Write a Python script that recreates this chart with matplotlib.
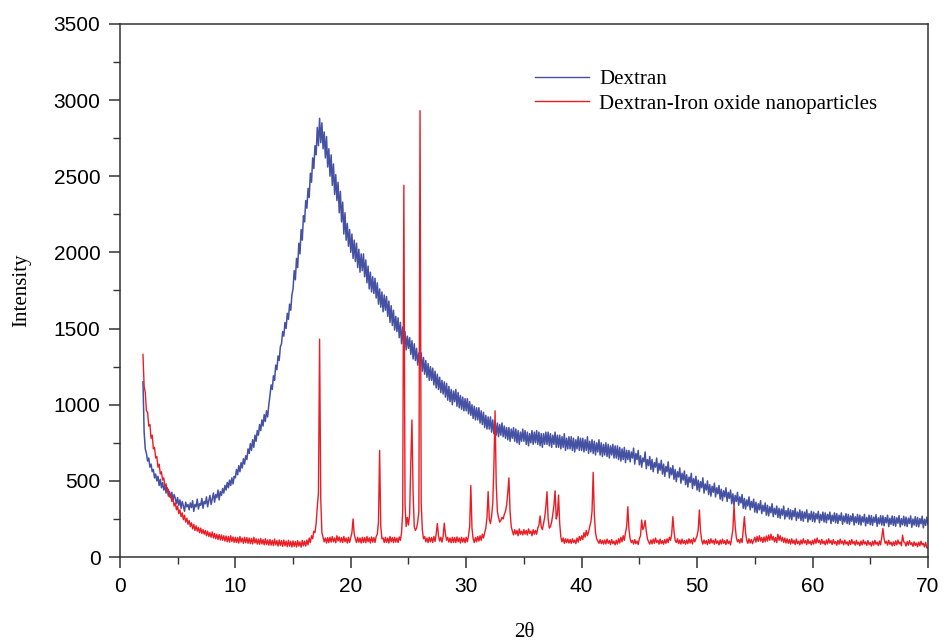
import numpy as np
import matplotlib.pyplot as plt

# 2theta grid: 2.0 .. 70.0 in steps of 0.1 deg (one row of 10 values per degree below)
two_theta = np.round(np.arange(2.0, 70.05, 0.1), 1)

# Dextran (blue)
dextran = [
    1150, 820, 710, 680, 630, 650, 590, 610, 560, 575,
    520, 545, 500, 530, 470, 510, 455, 490, 440, 470,
    420, 455, 400, 430, 390, 425, 370, 410, 385, 350,
    390, 340, 375, 320, 365, 335, 300, 360, 330, 345,
    310, 355, 325, 370, 300, 345, 330, 380, 315, 350,
    340, 385, 320, 365, 350, 395, 330, 370, 405, 345,
    380, 420, 360, 410, 390, 440, 375, 430, 405, 450,
    420, 470, 440, 490, 455, 505, 470, 520, 480, 530,
    520, 575, 540, 600, 560, 620, 585, 645, 610, 665,
    640, 710, 680, 745, 700, 770, 720, 800, 760, 830,
    800, 870, 830, 900, 860, 935, 890, 960, 920, 1000,
    1060, 1130, 1100, 1190, 1160, 1260, 1230, 1320, 1290, 1380,
    1400, 1480, 1450, 1540, 1500, 1600, 1560, 1660, 1620, 1720,
    1760, 1880, 1820, 1960, 1900, 2060, 1990, 2150, 2080, 2240,
    2200, 2340, 2290, 2420, 2360, 2520, 2460, 2620, 2550, 2700,
    2640, 2820, 2700, 2880, 2720, 2850, 2680, 2790, 2620, 2760,
    2560, 2680, 2500, 2640, 2440, 2580, 2380, 2510, 2340, 2460,
    2260, 2400, 2200, 2330, 2120, 2260, 2080, 2190, 2040, 2150,
    2000, 2120, 1960, 2080, 1940, 2060, 1900, 2020, 1870, 1990,
    1880, 1990, 1840, 1950, 1800, 1910, 1760, 1870, 1740, 1840,
    1730, 1830, 1700, 1800, 1660, 1760, 1640, 1740, 1610, 1720,
    1620, 1710, 1580, 1680, 1540, 1650, 1520, 1620, 1490, 1580,
    1480, 1570, 1440, 1540, 1400, 1510, 1380, 1480, 1360, 1450,
    1370, 1440, 1330, 1420, 1300, 1400, 1290, 1370, 1260, 1340,
    1250, 1340, 1220, 1310, 1200, 1290, 1180, 1270, 1160, 1250,
    1160, 1240, 1130, 1220, 1110, 1200, 1100, 1180, 1080, 1160,
    1070, 1150, 1050, 1140, 1030, 1120, 1020, 1100, 1000, 1090,
    1020, 1100, 990, 1080, 980, 1060, 970, 1050, 960, 1040,
    960, 1040, 940, 1020, 930, 1000, 910, 990, 900, 980,
    900, 980, 880, 960, 870, 950, 850, 930, 840, 920,
    840, 920, 820, 900, 810, 890, 800, 880, 790, 870,
    800, 880, 790, 860, 780, 850, 770, 850, 760, 840,
    780, 850, 760, 840, 750, 830, 740, 820, 760, 840,
    760, 830, 740, 820, 730, 810, 750, 830, 740, 820,
    750, 830, 740, 820, 730, 810, 720, 810, 740, 820,
    740, 820, 730, 810, 720, 800, 740, 820, 720, 800,
    720, 800, 710, 790, 720, 810, 700, 780, 710, 790,
    710, 790, 700, 780, 690, 770, 710, 790, 700, 780,
    700, 780, 690, 770, 700, 790, 680, 760, 690, 770,
    680, 760, 670, 750, 690, 770, 670, 750, 660, 740,
    670, 750, 660, 740, 650, 730, 670, 740, 650, 730,
    650, 730, 640, 720, 630, 710, 640, 720, 620, 700,
    640, 700, 625, 690, 650, 715, 610, 680, 640, 700,
    605, 665, 590, 650, 625, 690, 580, 640, 600, 660,
    575, 640, 560, 620, 590, 650, 550, 615, 570, 635,
    545, 610, 530, 595, 560, 625, 520, 585, 540, 600,
    510, 575, 495, 560, 525, 585, 485, 550, 505, 565,
    475, 540, 460, 525, 490, 550, 450, 515, 470, 530,
    440, 505, 430, 495, 455, 520, 420, 480, 440, 500,
    410, 475, 400, 465, 425, 485, 395, 455, 415, 470,
    380, 445, 370, 435, 395, 455, 365, 425, 385, 440,
    350, 415, 340, 405, 365, 425, 340, 395, 355, 410,
    320, 385, 315, 375, 335, 395, 310, 365, 325, 380,
    295, 360, 290, 350, 310, 370, 285, 340, 300, 355,
    275, 340, 270, 330, 290, 350, 265, 320, 280, 335,
    260, 320, 255, 315, 275, 335, 250, 305, 265, 320,
    250, 310, 245, 305, 265, 320, 240, 295, 255, 310,
    240, 300, 235, 295, 255, 310, 230, 285, 245, 300,
    235, 295, 230, 285, 250, 300, 225, 280, 240, 295,
    230, 290, 225, 280, 245, 295, 220, 275, 235, 290,
    225, 285, 220, 275, 240, 290, 215, 270, 230, 285,
    220, 280, 215, 270, 235, 285, 210, 265, 225, 280,
    215, 275, 210, 265, 230, 280, 205, 260, 220, 275,
    212, 272, 208, 262, 228, 278, 202, 258, 218, 272,
    210, 270, 205, 260, 225, 275, 200, 255, 215, 270,
    208, 265, 202, 258, 222, 272, 198, 252, 212, 268,
    205, 262, 200, 255, 220, 270, 195, 250, 210, 265,
    202, 260, 198, 252, 218, 268, 192, 248, 208, 262,
    215,
]

# Dextran-Iron oxide nanoparticles (red)
dextran_iron = [
    1330, 1120, 1080, 960, 950, 860, 870, 780, 800, 710,
    720, 650, 660, 590, 610, 545, 560, 505, 520, 465,
    480, 430, 445, 395, 410, 365, 385, 335, 355, 310,
    335, 285, 310, 265, 290, 245, 275, 230, 255, 215,
    240, 200, 225, 185, 215, 175, 205, 170, 195, 160,
    190, 155, 180, 150, 175, 140, 170, 135, 160, 130,
    165, 125, 155, 120, 150, 115, 148, 112, 145, 110,
    140, 105, 138, 100, 135, 98, 140, 102, 132, 96,
    130, 95, 128, 92, 135, 98, 125, 90, 130, 94,
    128, 90, 125, 88, 122, 86, 130, 92, 120, 85,
    118, 84, 122, 86, 115, 80, 120, 82, 112, 78,
    115, 78, 110, 75, 118, 80, 108, 72, 112, 76,
    108, 70, 112, 74, 105, 68, 110, 72, 104, 66,
    106, 70, 102, 66, 108, 72, 100, 65, 110, 74,
    105, 72, 112, 80, 125, 95, 140, 120, 170, 160,
    220, 330, 420, 1430, 380, 160, 130, 100, 125, 92,
    128, 95, 130, 98, 135, 100, 125, 94, 140, 105,
    132, 98, 128, 95, 135, 100, 125, 92, 130, 96,
    128, 160, 250, 150, 120, 95, 130, 98, 125, 92,
    130, 96, 128, 94, 135, 100, 126, 92, 132, 98,
    128, 96, 135, 150, 230, 700, 200, 120, 125, 95,
    130, 96, 125, 92, 135, 100, 128, 95, 130, 98,
    125, 95, 132, 110, 160, 300, 2440, 350, 200, 260,
    210, 280, 620, 900, 420, 200, 175, 190, 230, 300,
    2930, 360, 180, 120, 135, 100, 125, 95, 130, 100,
    128, 96, 135, 102, 150, 220, 140, 105, 130, 98,
    135, 222, 150, 110, 130, 98, 125, 94, 130, 96,
    128, 95, 132, 100, 125, 92, 130, 98, 125, 94,
    130, 100, 140, 200, 470, 190, 120, 95, 128, 100,
    135, 105, 140, 110, 150, 125, 160, 190, 260, 430,
    250, 220, 270, 350, 600, 960, 480, 300, 260, 230,
    240, 260, 250, 280, 300, 340, 420, 520, 300, 200,
    170, 145, 180, 150, 175, 140, 185, 150, 170, 145,
    180, 150, 175, 145, 185, 155, 170, 140, 180, 150,
    175, 150, 190, 210, 270, 200, 180, 220, 260, 330,
    429, 250, 190, 200, 230, 280, 340, 435, 250, 280,
    407, 220, 130, 100, 125, 90, 120, 95, 118, 92,
    115, 90, 120, 95, 112, 88, 125, 98, 135, 110,
    140, 115, 160, 130, 175, 140, 165, 200, 230, 300,
    556, 280, 160, 120, 105, 90, 115, 88, 110, 85,
    112, 86, 118, 90, 108, 82, 115, 88, 105, 80,
    110, 85, 120, 92, 130, 100, 140, 110, 160, 200,
    330, 180, 120, 95, 110, 85, 115, 88, 105, 82,
    120, 140, 243, 180, 200, 240, 170, 120, 100, 85,
    112, 86, 118, 90, 125, 95, 110, 85, 118, 88,
    108, 84, 115, 90, 120, 95, 130, 110, 150, 265,
    170, 110, 95, 120, 88, 112, 85, 118, 90, 108,
    84, 112, 88, 120, 92, 115, 86, 125, 100, 120,
    140, 180, 309, 170, 110, 85, 112, 88, 108, 82,
    115, 88, 120, 92, 110, 84, 118, 90, 106, 80,
    112, 86, 118, 90, 108, 82, 115, 88, 104, 80,
    130, 180, 341, 200, 130, 100, 115, 92, 120, 95,
    180, 265, 160, 110, 90, 120, 92, 115, 88, 110,
    130, 98, 135, 102, 140, 105, 128, 96, 132, 100,
    138, 105, 145, 110, 150, 112, 135, 100, 128, 95,
    150, 110, 140, 105, 130, 96, 125, 92, 120, 90,
    115, 85, 120, 90, 110, 82, 118, 88, 105, 80,
    112, 86, 120, 92, 108, 82, 115, 88, 104, 80,
    110, 85, 118, 90, 125, 95, 110, 84, 116, 88,
    105, 80, 112, 86, 120, 92, 108, 82, 115, 88,
    102, 78, 110, 84, 118, 90, 105, 80, 112, 86,
    100, 76, 108, 82, 115, 88, 102, 78, 110, 84,
    98, 74, 105, 80, 112, 86, 100, 76, 108, 82,
    96, 72, 104, 78, 110, 84, 98, 75, 105, 80,
    130, 188, 120, 90, 104, 78, 110, 84, 98, 74,
    100, 76, 106, 80, 112, 86, 98, 74, 144, 100,
    95, 72, 102, 78, 108, 82, 94, 70, 100, 76,
    92, 68, 98, 74, 104, 80, 90, 66, 96, 60,
    60,
]

x_ticks = [0, 10, 20, 30, 40, 50, 60, 70]
y_ticks = [0, 500, 1000, 1500, 2000, 2500, 3000, 3500]

fig = plt.figure(figsize=(9.44, 6.44), dpi=100)
ax = fig.add_axes([0.127, 0.135, 0.856, 0.828])

ax.plot(two_theta, dextran, color='#4551a3', lw=1.1, label='Dextran')
ax.plot(two_theta, dextran_iron, color='#ec1c24', lw=1.0,
        label='Dextran-Iron oxide nanoparticles')

ax.set_xlim(0, 70)
ax.set_ylim(0, 3500)
ax.set_xticks(x_ticks)
ax.set_yticks(y_ticks)
ax.set_xticks(np.arange(5, 70, 10), minor=True)
ax.set_yticks(np.arange(250, 3500, 500), minor=True)

for lab in ax.get_xticklabels() + ax.get_yticklabels():
    lab.set_family('Liberation Sans')
    lab.set_fontsize(15)
ax.tick_params(which='major', direction='out', length=8, width=1.1,
               color='#333333', pad=6)
ax.tick_params(which='minor', direction='out', length=5, width=1.0,
               color='#333333')
for s in ax.spines.values():
    s.set_color('#333333')
    s.set_linewidth(1.1)

ax.set_xlabel('2θ', family='Liberation Serif', fontsize=15, labelpad=20)
ax.set_ylabel('Intensity', family='Liberation Serif', fontsize=15, labelpad=16)

leg = ax.legend(loc='upper left', bbox_to_anchor=(0.49, 0.95), frameon=False,
                prop={'family': 'Liberation Serif', 'size': 15},
                handlelength=2.6, handletextpad=0.5, labelspacing=0.25)
for h in leg.get_lines():
    h.set_linewidth(1.0)

fig.savefig('out.png', dpi=100)
